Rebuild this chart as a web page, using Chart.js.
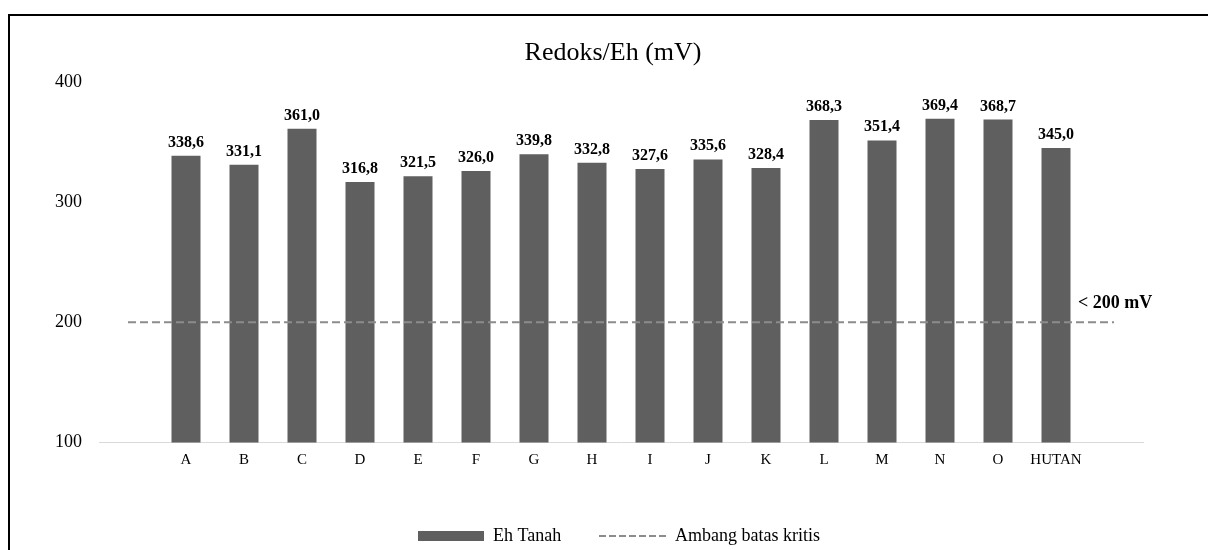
<!DOCTYPE html>
<html>
<head>
<meta charset="utf-8">
<script src="https://cdn.jsdelivr.net/npm/chart.js@4.4.1/dist/chart.umd.min.js"></script>
<style>
  html, body { margin: 0; padding: 0; background: #fff; }
  #wrap { width: 1208px; height: 550px; }
</style>
</head>
<body>
<div id="wrap"><canvas id="redoxChart" width="1208" height="550"></canvas></div>
<script>
const serif = "'Liberation Serif', 'Times New Roman', serif";

// category axis has an empty slot at each end so the threshold line reaches past the bars
const categories = ['', 'A', 'B', 'C', 'D', 'E', 'F', 'G', 'H', 'I', 'J', 'K', 'L', 'M', 'N', 'O', 'HUTAN', ''];
const ehTanah = [null, 338.6, 331.1, 361.0, 316.8, 321.5, 326.0, 339.8, 332.8, 327.6, 335.6, 328.4, 368.3, 351.4, 369.4, 368.7, 345.0, null];
const ambangBatas = [200, 200, 200, 200, 200, 200, 200, 200, 200, 200, 200, 200, 200, 200, 200, 200, 200, 200];
const yTicks = [100, 200, 300, 400];

const titleText = 'Redoks/Eh (mV)';
const thresholdText = '< 200 mV';
const barColor = '#5f5f5f';
const lineColor = '#8c8c8c';

const fmt = v => v.toFixed(1).replace('.', ',');

const decor = {
  id: 'decor',
  beforeDraw(chart) {
    const ctx = chart.ctx;
    ctx.save();
    ctx.fillStyle = '#fff';
    ctx.fillRect(0, 0, chart.width, chart.height);
    ctx.restore();
  },
  afterDatasetsDraw(chart) {
    const ctx = chart.ctx;
    const meta = chart.getDatasetMeta(0);
    ctx.save();
    ctx.fillStyle = '#000';
    ctx.font = 'bold 16px ' + serif;
    ctx.textAlign = 'center';
    ctx.textBaseline = 'alphabetic';
    meta.data.forEach((bar, i) => {
      const v = ehTanah[i];
      if (v == null) return;
      ctx.fillText(fmt(v), bar.x, bar.y - 9);
    });

    // threshold note
    const xs = chart.scales.x, ys = chart.scales.y;
    ctx.font = 'bold 18px ' + serif;
    ctx.textAlign = 'left';
    ctx.fillText(thresholdText, xs.getPixelForValue(16) + 22, ys.getPixelForValue(200) - 14);
    ctx.restore();
  },
  afterDraw(chart) {
    const ctx = chart.ctx;
    ctx.save();
    // title
    ctx.fillStyle = '#000';
    ctx.font = '26px ' + serif;
    ctx.textAlign = 'center';
    ctx.textBaseline = 'alphabetic';
    ctx.fillText(titleText, 613, 60);

    // legend
    ctx.font = '18px ' + serif;
    ctx.textAlign = 'left';
    ctx.textBaseline = 'middle';
    ctx.fillStyle = barColor;
    ctx.fillRect(418, 531, 66, 10);
    ctx.fillStyle = '#000';
    ctx.fillText('Eh Tanah', 493, 536);
    ctx.strokeStyle = lineColor;
    ctx.lineWidth = 2;
    ctx.setLineDash([7, 3]);
    ctx.beginPath();
    ctx.moveTo(599, 536);
    ctx.lineTo(669, 536);
    ctx.stroke();
    ctx.setLineDash([]);
    ctx.fillText('Ambang batas kritis', 675, 536);

    // outer frame
    ctx.strokeStyle = '#000';
    ctx.lineWidth = 2;
    ctx.strokeRect(9, 15, 1300, 1300);
    ctx.restore();
  }
};

const ctx = document.getElementById('redoxChart').getContext('2d');
new Chart(ctx, {
  data: {
    labels: categories,
    datasets: [
      {
        type: 'bar',
        label: 'Eh Tanah',
        data: ehTanah,
        backgroundColor: barColor,
        barPercentage: 0.5,
        categoryPercentage: 1.0,
        order: 1
      },
      {
        type: 'line',
        label: 'Ambang batas kritis',
        data: ambangBatas,
        borderColor: lineColor,
        borderWidth: 2,
        borderDash: [8, 4],
        pointRadius: 0,
        fill: false,
        order: 0
      }
    ]
  },
  options: {
    responsive: false,
    animation: false,
    devicePixelRatio: 1,
    layout: { padding: { left: 0, right: 65, top: 82, bottom: 0 } },
    plugins: {
      legend: { display: false },
      title: { display: false },
      tooltip: { enabled: false }
    },
    scales: {
      x: {
        grid: { display: false, drawTicks: false },
        border: { display: true, color: '#d9d9d9', width: 1 },
        ticks: {
          color: '#000',
          font: { family: serif, size: 15 },
          padding: 9,
          maxRotation: 0,
          autoSkip: false
        },
        afterFit(scale) { scale.height = 107.5; }
      },
      y: {
        min: 100,
        max: 400,
        grid: { display: false, drawTicks: false },
        border: { display: false },
        afterBuildTicks(scale) { scale.ticks = yTicks.map(v => ({ value: v })); },
        ticks: {
          color: '#000',
          font: { family: serif, size: 18 },
          padding: 17
        },
        afterFit(scale) { scale.width = 99; }
      }
    }
  },
  plugins: [decor]
});
</script>
</body>
</html>
